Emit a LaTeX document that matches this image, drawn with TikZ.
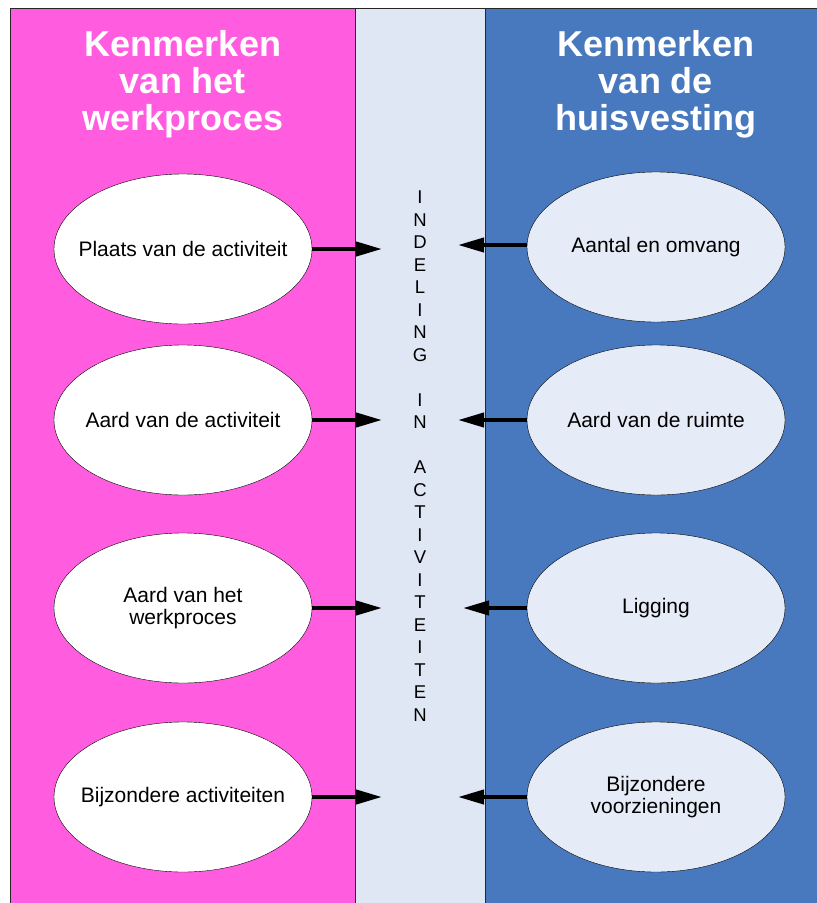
\documentclass[tikz,border=0pt]{standalone}
\usepackage{fontspec}
\setmainfont{Liberation Sans}
\usetikzlibrary{positioning,shapes.geometric,arrows.meta}
\definecolor{werkroze}{RGB}{255,92,224}
\definecolor{huisblauw}{RGB}{72,120,190}
\definecolor{middengrijs}{RGB}{223,230,244}
\definecolor{ovaalblauw}{RGB}{230,236,247}

\begin{document}
\begin{tikzpicture}[
        x=1pt, y=-1pt,
        panel/.style={
            draw=black!85,
            line width=1.2pt,
            anchor=north west,
            inner sep=0pt,
            minimum height=905pt
        },
        titel/.style={
            text=white,
            align=center,
            font=\fontsize{36}{37}\selectfont\bfseries
        },
        kenmerk/.style={
            draw,
            ellipse,
            align=center,
            minimum width=258pt,
            minimum height=150pt,
            inner xsep=-30pt,
            inner ysep=0pt,
            font=\fontsize{21}{22}\selectfont
        },
        pijl/.style={
            line width=4pt,
            -{Triangle[length=26pt,width=14pt]}
        }
    ]

    \clip (0,0) rectangle (817,903);

    \node[panel, fill=werkroze, minimum width=345pt] (werk) at (10,8) {};
    \node[panel, fill=middengrijs, minimum width=130pt] (midden) at (355,8) {};
    \node[panel, fill=huisblauw, minimum width=345pt] (huis) at (485,8) {};

    \node[titel] (titelwerk) at (183,84) {Kenmerken\\van het\\werkproces};
    \node[titel] (titelhuis) at (656,84) {Kenmerken\\van de\\huisvesting};

    \node[kenmerk, fill=white] (plaats) at (183,249) {Plaats van de activiteit};
    \node[kenmerk, fill=white] (aard) at (183,420) {Aard van de activiteit};
    \node[kenmerk, fill=white] (proces) at (183,608) {Aard van het\\werkproces};
    \node[kenmerk, fill=white] (bijzonder) at (183,797) {Bijzondere activiteiten};

    \node[kenmerk, fill=ovaalblauw] (aantal) at (656,247) {Aantal en omvang};
    \node[kenmerk, fill=ovaalblauw] (ruimte) at (656,420) {Aard van de ruimte};
    \node[kenmerk, fill=ovaalblauw] (ligging) at (656,608) {Ligging};
    \node[kenmerk, fill=ovaalblauw] (voorziening) at (656,797) {Bijzondere\\voorzieningen};

    \node[align=center, inner sep=0pt, font=\fontsize{18.5}{22.5}\selectfont] (indeling) at (420,456)
        {I\\N\\D\\E\\L\\I\\N\\G\\[22.5pt]I\\N\\[22.5pt]A\\C\\T\\I\\V\\I\\T\\E\\I\\T\\E\\N};

    % pijlen naar het midden
    \coordinate (pplaats) at (382,249);
    \coordinate (paard) at (382,420);
    \coordinate (pproces) at (382,608);
    \coordinate (pbijzonder) at (382,797);
    \coordinate (paantal) at (458,245);
    \coordinate (pruimte) at (458,420);
    \coordinate (pligging) at (463,608);
    \coordinate (pvoorziening) at (458,797);

    \draw[pijl] (plaats.east) -- (pplaats);
    \draw[pijl] (aard.east) -- (paard);
    \draw[pijl] (proces.east) -- (pproces);
    \draw[pijl] (bijzonder.east) -- (pbijzonder);
    \draw[pijl] (aantal.west |- paantal) -- (paantal);
    \draw[pijl] (ruimte.west) -- (pruimte);
    \draw[pijl] (ligging.west) -- (pligging);
    \draw[pijl] (voorziening.west) -- (pvoorziening);

\end{tikzpicture}
\end{document}
